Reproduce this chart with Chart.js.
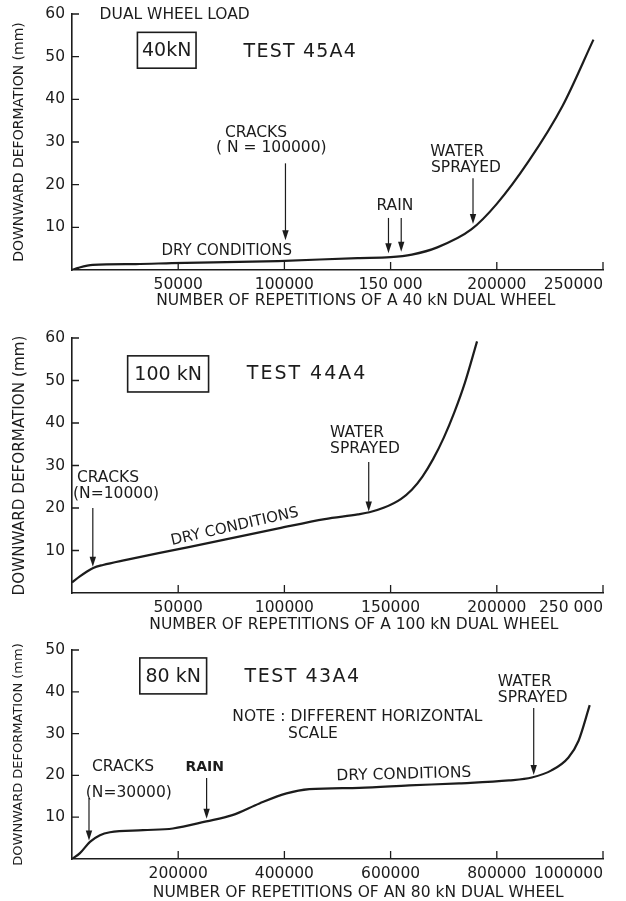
<!DOCTYPE html>
<html lang="en">
<head>
  <meta charset="UTF-8">
  <title>Downward deformation under dual wheel loads</title>
  <style>
    body {
      margin: 0;
      background: #fff;
    }
    .panel {
      position: absolute;
      left: 0;
    }
  </style>
</head>
<body>
  <div class="panel" style="top:0"><canvas id="test45" width="626" height="309"></canvas></div>
  <div class="panel" style="top:309px"><canvas id="test44" width="626" height="324"></canvas></div>
  <div class="panel" style="top:633px"><canvas id="test43" width="626" height="268"></canvas></div>

  <script src="https://cdn.jsdelivr.net/npm/chart.js"></script>
  <script>
    // Test 45A4 - 40 kN
    const reps45 = [0, 3000, 9800, 30000, 47000, 97000, 134500, 150000, 160000, 172000, 188000, 200000, 215000, 231000, 245500];
    const def45 = [0, 0.5, 1.2, 1.4, 1.6, 2.1, 2.8, 3.0, 3.6, 5.3, 9.5, 15.5, 25.5, 38.5, 54];
    const xLabels45 = ["", "50000", "100000", "150 000", "200000", "250000"];

    // Test 44A4 - 100 kN
    const reps44 = [0, 3700, 6900, 10000, 14600, 25500, 49000, 72400, 97200, 119000, 134600, 140000, 147000, 154800, 160000, 165000, 170000, 175000, 180000, 185000, 190700];
    const def44 = [2.5, 3.9, 5.0, 5.9, 6.6, 7.8, 10.2, 12.6, 15.2, 17.4, 18.5, 19.0, 20.1, 22.1, 24.3, 27.4, 31.5, 36.5, 42.5, 49.5, 59.2];
    const xLabels44 = ["", "50000", "100000", "150000", "200000", "250 000"];

    // Test 43A4 - 80 kN
    const reps43 = [0, 15000, 33800, 52600, 71400, 134000, 190000, 253000, 302000, 353000, 404000, 447000, 541000, 635000, 729000, 823000, 866000, 903000, 935000, 954000, 975000];
    const def43 = [0, 1.4, 4.1, 5.7, 6.4, 6.9, 7.3, 9.0, 10.5, 13.3, 15.7, 16.7, 17.0, 17.6, 18.1, 18.8, 19.5, 21.2, 24.3, 28.3, 36.8];
    const xLabels43 = ["", "200000", "400000", "600000", "800000", "1000000"];

    const ink = "#1c1c1c";
    const face = "'DejaVu Sans', sans-serif";

    // ticks pointing into the plot, like the original drawing
    const innerTicks = {
      id: "innerTicks",
      afterDraw(chart) {
        const { ctx, chartArea, scales } = chart;
        ctx.save();
        ctx.strokeStyle = ink;
        ctx.lineWidth = 1.3;
        ctx.beginPath();
        scales.x.ticks.forEach(t => {
          if (t.value === 0) return;
          const px = scales.x.getPixelForValue(t.value);
          ctx.moveTo(px, chartArea.bottom);
          ctx.lineTo(px, chartArea.bottom - 8);
        });
        scales.y.ticks.forEach(t => {
          if (t.value === 0) return;
          const py = scales.y.getPixelForValue(t.value);
          ctx.moveTo(chartArea.left, py);
          ctx.lineTo(chartArea.left + 7, py);
        });
        ctx.stroke();
        ctx.restore();
      }
    };

    // text notes, boxed labels, arrows and the x title, placed in data units
    const notes = {
      id: "notes",
      afterDraw(chart, args, opts) {
        const { ctx, chartArea, scales: { x, y } } = chart;
        ctx.save();
        ctx.fillStyle = ink;
        ctx.strokeStyle = ink;

        (opts.boxes || []).forEach(b => {
          const x1 = x.getPixelForValue(b.x1), x2 = x.getPixelForValue(b.x2);
          const y1 = y.getPixelForValue(b.y1), y2 = y.getPixelForValue(b.y2);
          ctx.lineWidth = 1.6;
          ctx.strokeRect(x1, y1, x2 - x1, y2 - y1);
          ctx.font = "19px " + face;
          ctx.textAlign = "center";
          ctx.textBaseline = "middle";
          ctx.fillText(b.text, (x1 + x2) / 2, (y1 + y2) / 2 + 1);
        });

        (opts.texts || []).forEach(t => {
          ctx.save();
          ctx.translate(x.getPixelForValue(t.x), y.getPixelForValue(t.y));
          if (t.rotate) ctx.rotate(t.rotate * Math.PI / 180);
          ctx.font = (t.bold ? "bold " : "") + (t.size || 15.5) + "px " + face;
          ctx.letterSpacing = (t.spacing || 0) + "px";
          ctx.textAlign = t.align || "left";
          ctx.textBaseline = "middle";
          ctx.fillText(t.text, 0, 0);
          ctx.restore();
        });

        (opts.arrows || []).forEach(a => {
          const px = x.getPixelForValue(a.x);
          const top = y.getPixelForValue(a.from);
          const tip = y.getPixelForValue(a.to);
          ctx.lineWidth = 1.2;
          ctx.beginPath();
          ctx.moveTo(px, top);
          ctx.lineTo(px, tip - 6);
          ctx.stroke();
          ctx.beginPath();
          ctx.moveTo(px, tip);
          ctx.lineTo(px - 3.2, tip - 10);
          ctx.lineTo(px + 3.2, tip - 10);
          ctx.closePath();
          ctx.fill();
        });

        if (opts.xTitle) {
          ctx.font = "15.5px " + face;
          ctx.textAlign = "center";
          ctx.textBaseline = "middle";
          ctx.fillText(opts.xTitle.text, x.getPixelForValue(opts.xTitle.x), chartArea.bottom + opts.xTitle.dy);
        }
        ctx.restore();
      }
    };

    function drawTest(id, reps, def, xLabels, cfg) {
      return new Chart(document.getElementById(id), {
        type: "line",
        data: {
          datasets: [{
            data: reps.map((r, i) => ({ x: r, y: def[i] })),
            borderColor: ink,
            borderWidth: 2.2,
            pointRadius: 0,
            cubicInterpolationMode: "monotone",
            fill: false
          }]
        },
        options: {
          responsive: false,
          animation: false,
          layout: { padding: { top: cfg.padTop, right: 23, left: 0, bottom: 0 } },
          plugins: {
            legend: { display: false },
            tooltip: { enabled: false },
            notes: cfg.notes
          },
          scales: {
            x: {
              type: "linear",
              min: 0,
              max: cfg.xMax,
              border: { display: true, color: ink, width: 1.6 },
              grid: { display: false, drawTicks: false },
              ticks: {
                stepSize: cfg.xMax / 5,
                autoSkip: false,
                maxRotation: 0,
                align: "inner",
                padding: 6,
                color: ink,
                font: { family: face, size: 15.5 },
                callback: (v, i) => xLabels[i]
              },
              afterFit(scale) {
                scale.height = cfg.xHeight;
                scale.paddingLeft = 0;
                scale.paddingRight = 0;
              }
            },
            y: {
              min: 0,
              max: cfg.yMax,
              border: { display: true, color: ink, width: 1.6 },
              grid: { display: false, drawTicks: false },
              ticks: {
                stepSize: 10,
                padding: 7,
                color: ink,
                font: { family: face, size: 15.5 },
                callback: v => (v === 0 ? "" : v)
              },
              title: {
                display: true,
                text: "DOWNWARD DEFORMATION (mm)",
                color: ink,
                font: { family: face, size: cfg.yTitleSize },
                padding: { top: 11, bottom: 0 }
              },
              afterFit(scale) {
                scale.width = 72;
                scale.paddingTop = 0;
                scale.paddingBottom = 0;
              }
            }
          }
        },
        plugins: [innerTicks, notes]
      });
    }

    drawTest("test45", reps45, def45, xLabels45, {
      xMax: 250000, yMax: 60, padTop: 14, xHeight: 39, yTitleSize: 14,
      notes: {
        xTitle: { text: "NUMBER OF REPETITIONS OF A 40 kN DUAL WHEEL", x: 133600, dy: 31 },
        boxes: [{ text: "40kN", x1: 30800, x2: 58400, y1: 55.7, y2: 47.3 }],
        texts: [
          { text: "DUAL WHEEL LOAD", x: 13000, y: 59.7 },
          { text: "TEST 45A4", x: 80800, y: 51, size: 19, spacing: 1.2 },
          { text: "CRACKS", x: 72000, y: 32 },
          { text: "( N = 100000)", x: 67800, y: 28.5 },
          { text: "DRY CONDITIONS", x: 72900, y: 4.5, size: 15, align: "center" },
          { text: "RAIN", x: 152000, y: 15, align: "center" },
          { text: "WATER", x: 168700, y: 27.6 },
          { text: "SPRAYED", x: 169000, y: 23.9 }
        ],
        arrows: [
          { x: 100500, from: 25, to: 7 },
          { x: 149000, from: 12.2, to: 3.9 },
          { x: 155000, from: 12.2, to: 4.3 },
          { x: 188800, from: 21.5, to: 10.8 }
        ]
      }
    });

    drawTest("test44", reps44, def44, xLabels44, {
      xMax: 250000, yMax: 60, padTop: 29, xHeight: 40, yTitleSize: 15.2,
      notes: {
        xTitle: { text: "NUMBER OF REPETITIONS OF A 100 kN DUAL WHEEL", x: 132700, dy: 32 },
        boxes: [{ text: "100 kN", x1: 26200, x2: 64300, y1: 55.8, y2: 47.3 }],
        texts: [
          { text: "TEST 44A4", x: 82300, y: 51.5, size: 19, spacing: 2 },
          { text: "CRACKS", x: 2300, y: 27 },
          { text: "(N=10000)", x: 500, y: 23.3 },
          { text: "DRY CONDITIONS", x: 76600, y: 15.6, size: 15, align: "center", rotate: -12.8 },
          { text: "WATER", x: 121500, y: 37.6 },
          { text: "SPRAYED", x: 121500, y: 33.9 }
        ],
        arrows: [
          { x: 9800, from: 20, to: 6.2 },
          { x: 139700, from: 30.8, to: 19.2 }
        ]
      }
    });

    drawTest("test43", reps43, def43, xLabels43, {
      xMax: 1000000, yMax: 50, padTop: 17, xHeight: 42, yTitleSize: 13,
      notes: {
        xTitle: { text: "NUMBER OF REPETITIONS OF AN 80 kN DUAL WHEEL", x: 539000, dy: 34 },
        boxes: [{ text: "80 kN", x1: 127700, x2: 253500, y1: 48.1, y2: 39.5 }],
        texts: [
          { text: "TEST 43A4", x: 325000, y: 43.5, size: 19, spacing: 1.5 },
          { text: "NOTE : DIFFERENT HORIZONTAL", x: 302000, y: 34 },
          { text: "SCALE", x: 407000, y: 29.9 },
          { text: "CRACKS", x: 37500, y: 22 },
          { text: "(N=30000)", x: 26000, y: 15.8 },
          { text: "RAIN", x: 250000, y: 22, size: 14, bold: true, align: "center" },
          { text: "DRY CONDITIONS", x: 625000, y: 20.2, size: 15.5, align: "center", rotate: -1.5 },
          { text: "WATER", x: 802000, y: 42.3 },
          { text: "SPRAYED", x: 802000, y: 38.5 }
        ],
        arrows: [
          { x: 32000, from: 14.6, to: 4.4 },
          { x: 253500, from: 19.4, to: 9.6 },
          { x: 869500, from: 36.1, to: 20.1 }
        ]
      }
    });
  </script>
</body>
</html>
